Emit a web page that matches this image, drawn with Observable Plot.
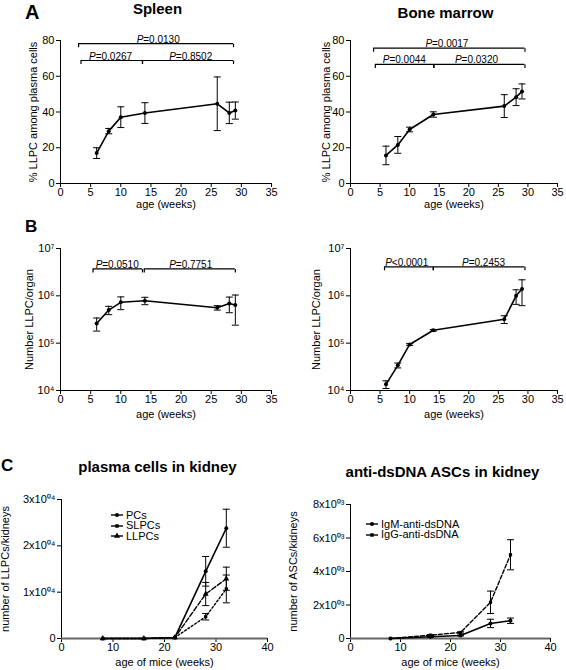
<!DOCTYPE html>
<html><head><meta charset="utf-8">
<script src="https://cdn.jsdelivr.net/npm/d3@7"></script>
<script src="https://cdn.jsdelivr.net/npm/@observablehq/plot@0.6"></script>
<style>
body{margin:0;background:#fff;}
#root{position:relative;width:566px;height:670px;overflow:hidden;background:#fff;font-family:"Liberation Sans",Arial,sans-serif;color:#000;}
.panel{position:absolute;}
.t{position:absolute;font-weight:bold;white-space:nowrap;line-height:1.2;}
.ctr{transform:translateX(-50%);}
.leg{position:absolute;font-size:11px;line-height:1;}
.leg div{display:flex;align-items:center;height:10.5px;}
.leg svg{margin-right:2px;}
</style>
</head><body><div id="root"></div>
<script>
// ---------- data ----------
const ageAB = [6, 8, 10, 14, 26, 28, 29];
const xTicksAB = [0, 5, 10, 15, 20, 25, 30, 35];
const yTicksA = [0, 20, 40, 60, 80];
const yTicksB = [1e4, 1e5, 1e6, 1e7];

const spleenPct = [17.0, 29.3, 37.1, 39.4, 44.6, 39.5, 40.8];
const spleenPctErr = [3.0, 1.5, 5.8, 5.8, 15.0, 6.0, 4.8];
const bmPct = [15.7, 21.6, 30.2, 38.6, 43.3, 48.3, 51.5];
const bmPctErr = [5.2, 4.7, 1.3, 1.5, 6.4, 4.7, 4.2];

const spleenNum = [2.6e5, 5.0e5, 7.3e5, 7.9e5, 5.6e5, 6.9e5, 6.4e5];
const spleenNumErr = [0.8e5, 1.0e5, 2.2e5, 1.4e5, 0.6e5, 2.5e5, 4.0e5];
const bmNum = [1.35e4, 3.4e4, 9.4e4, 1.87e5, 3.2e5, 1.0e6, 1.4e6];
const bmNumErr = [0.25e4, 0.4e4, 0.4e4, 0.8e4, 0.6e5, 3.4e5, 7.8e5];

// significance brackets and labels
const bracketsSpleenPct = [{x1: 3.0, x2: 28.7, y: 78.2}, {x1: 3.4, x2: 13.6, y: 68.8}, {x1: 13.6, x2: 28.7, y: 68.8}];
const pSpleenPct = [{x: 16.2, y: 78.2, t: "=0.0130"}, {x: 8.3, y: 68.8, t: "=0.0267"}, {x: 21.6, y: 68.8, t: "=0.8502"}];
const bracketsBmPct = [{x1: 3.9, x2: 29.5, y: 75.7}, {x1: 4.2, x2: 14.1, y: 66.6}, {x1: 14.1, x2: 29.5, y: 66.6}];
const pBmPct = [{x: 16.3, y: 75.7, t: "=0.0017"}, {x: 9.1, y: 66.6, t: "=0.0044"}, {x: 21.3, y: 66.6, t: "=0.0320"}];
const bracketsSpleenNum = [{x1: 5.4, x2: 13.6, y: 3.7e6}, {x1: 13.9, x2: 29.0, y: 3.7e6}];
const pSpleenNum = [{x: 9.4, y: 3.7e6, t: "=0.0510"}, {x: 21.6, y: 3.7e6, t: "=0.7751"}];
const bracketsBmNum = [{x1: 5.75, x2: 14.0, y: 4.1e6}, {x1: 14.0, x2: 29.5, y: 4.1e6}];
const pBmNum = [{x: 9.5, y: 4.1e6, t: "<0.0001"}, {x: 22.5, y: 4.1e6, t: "=0.2453"}];

// panel C
const ageC = [8, 16, 22, 28, 32];
const xTicksC = [0, 10, 20, 30, 40];
const yTicksCL = [0, 1e4, 2e4, 3e4];
const yTicksCR = [0, 2e3, 4e3, 6e3, 8e3];
const pcs = [0, 0, 200, 14500, 23800];
const pcsErr = [0, 0, 0, 3200, 4100];
const slpcs = [0, 0, 200, 4700, 10700];
const slpcsErr = [0, 0, 0, 700, 3000];
const llpcs = [0, 0, 200, 9600, 12900];
const llpcsErr = [0, 0, 0, 2500, 2500];
const igm = [0, 100, 180, 900, 1060];
const igmErr = [0, 30, 30, 250, 160];
const igg = [0, 200, 360, 2160, 5000];
const iggErr = [0, 30, 40, 670, 900];

const legendCL = ["PCs", "SLPCs", "LLPCs"];
const legendCR = ["IgM-anti-dsDNA", "IgG-anti-dsDNA"];

// ---------- helpers ----------
const FONT = "Liberation Sans, Arial, sans-serif";
const supMap = {"0":"⁰","1":"¹","2":"²","3":"³","4":"⁴","5":"⁵","6":"⁶","7":"⁷","8":"⁸","9":"⁹"};
const sup = s => String(s).split("").map(c => supMap[c] || c).join("");
const rowsOf = (xs, ys, es) => xs.map((x, i) => ({x, y: ys[i], e: es[i]}));

const capSym = {draw(ctx, size) { const r = Math.sqrt(size / Math.PI); ctx.moveTo(-r, 0); ctx.lineTo(r, 0); }};
const tickDownSym = {draw(ctx, size) { const r = Math.sqrt(size / Math.PI); ctx.moveTo(0, 0); ctx.lineTo(0, r); }};

function series(rows, {dash = null, symbol = "circle", width = 1.6, r = 2, capR = 3.5}) {
  const withErr = rows.filter(d => d.e > 0);
  return [
    Plot.ruleX(withErr, {x: "x", y1: d => d.y - d.e, y2: d => d.y + d.e, stroke: "black", strokeWidth: 1}),
    Plot.dot(withErr, {x: "x", y: d => d.y + d.e, symbol: capSym, r: capR, stroke: "black", strokeWidth: 1}),
    Plot.dot(withErr, {x: "x", y: d => d.y - d.e, symbol: capSym, r: capR, stroke: "black", strokeWidth: 1}),
    Plot.line(rows, {x: "x", y: "y", stroke: "black", strokeWidth: width, strokeDasharray: dash}),
    Plot.dot(rows, {x: "x", y: "y", r, symbol, fill: "black", stroke: "none"})
  ];
}

function brackets(br, ps) {
  return [
    Plot.ruleY(br, {x1: "x1", x2: "x2", y: "y", stroke: "black", strokeWidth: 1.2}),
    Plot.dot(br, {x: "x1", y: "y", symbol: tickDownSym, r: 3.5, stroke: "black", strokeWidth: 1.2}),
    Plot.dot(br, {x: "x2", y: "y", symbol: tickDownSym, r: 3.5, stroke: "black", strokeWidth: 1.2}),
    Plot.text(ps, {x: "x", y: "y", text: () => "P", fontStyle: "italic", textAnchor: "start", lineAnchor: "bottom", dx: -21.5, dy: -1, fontSize: 10}),
    Plot.text(ps, {x: "x", y: "y", text: "t", textAnchor: "start", lineAnchor: "bottom", dx: -14.9, dy: -1, fontSize: 10})
  ];
}

function panel(o) {
  const p = Plot.plot({
    width: o.width, height: o.height,
    marginLeft: o.mL, marginRight: o.mR, marginTop: o.mT, marginBottom: o.mB,
    style: {fontFamily: FONT, fontSize: "11px", background: "transparent", color: "black", overflow: "visible"},
    x: {type: "linear", domain: o.xDomain},
    y: {type: o.yType || "linear", domain: o.yDomain},
    marks: [
      Plot.axisX({ticks: o.xTicks, tickSize: 4, tickPadding: 1, label: o.xLabel, labelAnchor: "center", labelOffset: o.xLabelOffset, labelArrow: "none", fontSize: 11, fontWeight: "normal"}),
      Plot.axisY({ticks: o.yTicks, tickFormat: o.yFormat, tickSize: 4, tickPadding: 2, label: o.yLabel, labelAnchor: "center", labelOffset: o.yLabelOffset, labelArrow: "none", fontSize: 11, fontWeight: "normal"}),
      Plot.ruleX([o.xDomain[0]], {stroke: "black", strokeWidth: 1}),
      Plot.ruleY([o.yDomain[0]], {stroke: o.xAxisColor || "black", strokeWidth: o.xAxisWidth || 1}),
      ...o.marks
    ]
  });
  p.classList.add("panel");
  p.style.left = o.left + "px";
  p.style.top = o.top + "px";
  return p;
}

const root = document.getElementById("root");
const fmtLog = d => "10" + sup(Math.round(Math.log10(d)));

// ---------- A ----------
root.appendChild(panel({
  left: 0, top: 0, width: 283, height: 215, mL: 60, mR: 12, mT: 40, mB: 32,
  xDomain: [0, 35], xTicks: xTicksAB, xLabel: "age (weeks)", xLabelOffset: 24.5,
  yDomain: [0, 80], yTicks: yTicksA, yLabel: "% LLPC among plasma cells", yLabelOffset: 31,
  marks: [...brackets(bracketsSpleenPct, pSpleenPct), ...series(rowsOf(ageAB, spleenPct, spleenPctErr), {})]
}));
root.appendChild(panel({
  left: 283, top: 0, width: 283, height: 215, mL: 67, mR: 9, mT: 40, mB: 32,
  xDomain: [0, 35], xTicks: xTicksAB, xLabel: "age (weeks)", xLabelOffset: 24.5,
  yDomain: [0, 80], yTicks: yTicksA, yLabel: "% LLPC among plasma cells", yLabelOffset: 28,
  marks: [...brackets(bracketsBmPct, pBmPct), ...series(rowsOf(ageAB, bmPct, bmPctErr), {})]
}));

// ---------- B ----------
root.appendChild(panel({
  left: 0, top: 215, width: 283, height: 215, mL: 60, mR: 12, mT: 33, mB: 40,
  xDomain: [0, 35], xTicks: xTicksAB, xLabel: "age (weeks)", xLabelOffset: 27.5,
  yType: "log", yDomain: [1e4, 1e7], yTicks: yTicksB, yFormat: fmtLog, yLabel: "Number LLPC/organ", yLabelOffset: 35,
  marks: [...brackets(bracketsSpleenNum, pSpleenNum), ...series(rowsOf(ageAB, spleenNum, spleenNumErr), {})]
}));
root.appendChild(panel({
  left: 283, top: 215, width: 283, height: 215, mL: 67, mR: 9, mT: 33, mB: 40,
  xDomain: [0, 35], xTicks: xTicksAB, xLabel: "age (weeks)", xLabelOffset: 27.5,
  yType: "log", yDomain: [1e4, 1e7], yTicks: yTicksB, yFormat: fmtLog, yLabel: "Number LLPC/organ", yLabelOffset: 38,
  marks: [...brackets(bracketsBmNum, pBmNum), ...series(rowsOf(ageAB, bmNum, bmNumErr), {})]
}));

// ---------- C ----------
root.appendChild(panel({
  left: 0, top: 430, width: 283, height: 240, mL: 61, mR: 16, mT: 69, mB: 32,
  xDomain: [0, 40], xTicks: xTicksC, xLabel: "age of mice (weeks)", xLabelOffset: 27.5,
  yDomain: [0, 3e4], yTicks: yTicksCL, yFormat: d => d === 0 ? "0" : `${d / 1e4}x10${sup("04")}`,
  yLabel: "number of LLPCs/kidneys", yLabelOffset: 60.5, xAxisColor: "#666", xAxisWidth: 2,
  marks: [
    ...series(rowsOf(ageC, slpcs, slpcsErr), {dash: "2,2", symbol: "square", width: 1.4, r: 1.8}),
    ...series(rowsOf(ageC, llpcs, llpcsErr), {dash: "5,2", symbol: "triangle", width: 1.4, r: 2.2}),
    ...series(rowsOf(ageC, pcs, pcsErr), {symbol: "circle", width: 1.6})
  ]
}));
root.appendChild(panel({
  left: 283, top: 430, width: 283, height: 240, mL: 67, mR: 16, mT: 74, mB: 32,
  xDomain: [0, 40], xTicks: xTicksC, xLabel: "age of mice (weeks)", xLabelOffset: 27.5,
  yDomain: [0, 8e3], yTicks: yTicksCR, yFormat: d => d === 0 ? "0" : `${d / 1e3}x10${sup("03")}`,
  yLabel: "number of ASCs/kidneys", yLabelOffset: 61.5, xAxisColor: "#666", xAxisWidth: 2,
  marks: [
    ...series(rowsOf(ageC, igg, iggErr), {dash: "4,2", symbol: "square", width: 1.4, r: 1.8}),
    ...series(rowsOf(ageC, igm, igmErr), {symbol: "circle", width: 1.6})
  ]
}));

// ---------- titles & letters ----------
// line-height 1.2: baseline sits ~0.95em below the box top
function addText(txt, x, baseline, size, center) {
  const d = document.createElement("div");
  d.className = "t" + (center ? " ctr" : "");
  d.textContent = txt;
  d.style.fontSize = size + "px";
  d.style.left = x + "px";
  d.style.top = Math.max(0, baseline - 0.947 * size) + "px";
  root.appendChild(d);
}
addText("A", 25, 19, 20, false);
addText("B", 25, 233, 17, false);
addText("C", 1, 472, 17, false);
addText("Spleen", 157.5, 14.5, 15, true);
addText("Bone marrow", 445.5, 18.3, 15, true);
addText("plasma cells in kidney", 157.5, 472, 15, true);
addText("anti-dsDNA ASCs in kidney", 442.5, 477, 15, true);

// ---------- legends ----------
function markerSvg(sym, dash) {
  const path = d3.symbol(sym === "square" ? d3.symbolSquare : sym === "triangle" ? d3.symbolTriangle : d3.symbolCircle, sym === "square" ? 12 : sym === "triangle" ? 16 : 13)();
  return `<svg width="14" height="8" viewBox="-7 -4 14 8"><line x1="-6" x2="6" y1="0" y2="0" stroke="black" stroke-width="1.4"${dash ? ` stroke-dasharray="${dash}"` : ""}/><path d="${path}" fill="black"/></svg>`;
}
function addLegend(x, y, labels, syms, dashes) {
  const d = document.createElement("div");
  d.className = "leg";
  d.style.left = x + "px";
  d.style.top = y + "px";
  d.innerHTML = labels.map((l, i) => `<div>${markerSvg(syms[i], dashes[i])}<span>${l}</span></div>`).join("");
  root.appendChild(d);
}
addLegend(110, 510, legendCL, ["circle", "square", "triangle"], [null, null, null]);
addLegend(365, 519, legendCR, ["circle", "square"], [null, null]);
</script>
</body></html>
